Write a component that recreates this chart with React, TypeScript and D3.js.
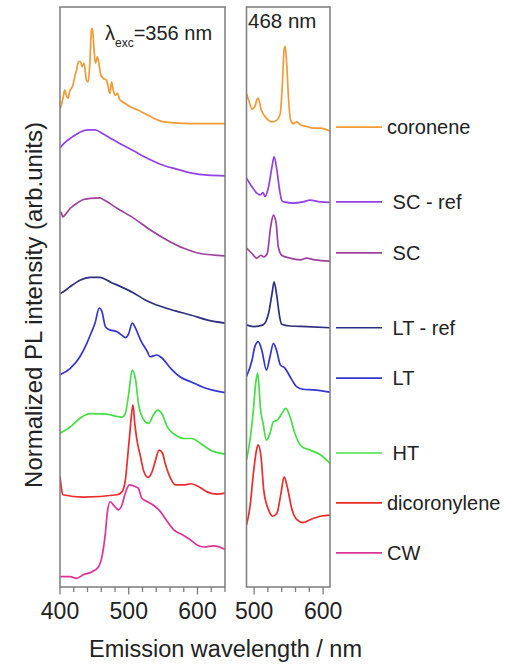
import React from "react";
import * as d3 from "d3";

// Emission spectra, stacked with vertical offsets (normalized PL intensity, arb. units).
// Each series: [wavelength nm, stacked intensity]
type Pt = [number, number];

const samples = ["coronene", "SC - ref", "SC", "LT - ref", "LT", "HT", "dicoronylene", "CW"];
const sampleColors = ["#f29a36", "#9340e6", "#9e409e", "#2f2f82", "#3434d2", "#44e044", "#ea2c2c", "#dc3496"];
// label text shown in the legend (some carry a leading space)
const legendLabels = ["coronene", " SC - ref", " SC", " LT - ref", " LT", " HT", "dicoronylene", "CW"];
const legendLevels = [79.3, 66.4, 57.6, 44.7, 36.0, 23.1, 14.5, 5.9];

// λexc = 356 nm panel
const coronene356: Pt[] = [[400,82.5],[402,83.1],[404.4,84.3],[407,85.7],[409,84.8],[411.7,84.3],[414,85.4],[419,86.6],[421.5,88.0],[424,89.1],[427,90.6],[430,90.6],[432,89.7],[435,90.3],[438.4,87.4],[441,87.1],[443.4,90.3],[445.7,96.0],[447.2,96.3],[449.2,93.2],[451.5,90.3],[454.5,91.4],[456.5,90.3],[459.4,88.3],[462.8,87.7],[467.6,87.4],[470,86.3],[472.6,85.1],[475,87.1],[477.4,85.7],[480,84.8],[483.7,85.1],[487,84.0],[494.5,83.4],[502,82.8],[514,82.2],[527,81.4],[551,80.2],[590,79.9],[640,79.9]];
const scRef356: Pt[] = [[400,75.7],[407,76.6],[418,77.6],[429,78.4],[441,78.8],[451,78.8],[463,78.1],[476,77.2],[491,76.2],[507,75.2],[524,74.1],[546,72.9],[568,72.1],[590,71.4],[615,71.0],[640,70.9]];
const sc356: Pt[] = [[400,64.7],[402,64.5],[404,63.8],[407,64.1],[415,65.3],[425,66.2],[434,66.8],[444,67.0],[458,67.1],[463,66.8],[483,65.3],[507,63.6],[531,61.6],[556,59.8],[580,58.4],[604,57.5],[640,57.1]];
const ltRef356: Pt[] = [[400,50.6],[405,50.9],[415,51.8],[429,52.9],[444,53.4],[458,53.4],[473,52.6],[507,50.7],[524,49.5],[546,48.4],[568,47.6],[590,46.9],[615,46.0],[640,45.5]];
const lt356: Pt[] = [[400,36.6],[415,37.7],[429,39.7],[439,42.0],[446,44.0],[451,45.5],[457,48.1],[461,47.5],[466,44.9],[471,44.4],[483,44.0],[490,43.4],[495,43.0],[500,43.7],[505,45.5],[510,44.6],[517,42.6],[527,40.6],[531,39.7],[541,40.0],[549,39.4],[561,37.7],[575,36.2],[590,35.4],[609,34.4],[640,33.5]];
const ht356: Pt[] = [[400,26.5],[415,27.6],[429,29.1],[444,29.9],[468,29.8],[483,29.4],[490,29.3],[495,29.9],[500,33.4],[505,37.4],[510,35.7],[514,31.7],[522,28.8],[529,28.2],[536,29.7],[542,30.5],[549,29.7],[556,27.6],[568,26.2],[580,25.6],[592,25.6],[604,24.8],[619,23.6],[640,22.9]];
const dicor356: Pt[] = [[400,19.1],[401.5,17.6],[404,15.9],[434,15.5],[483,15.9],[490,16.4],[495,18.4],[498,21.9],[502,27.1],[506,31.4],[509,27.9],[512,25.3],[517,22.5],[522,19.9],[528,18.9],[534,19.9],[539,21.9],[544,23.6],[549,23.1],[553,21.3],[561,18.7],[568,17.6],[580,17.6],[590,17.8],[602,17.3],[614,16.4],[629,16.0],[640,16.2]];
const cw356: Pt[] = [[400,1.8],[415,1.8],[424,1.5],[434,2.1],[446,2.6],[456,3.5],[461,5.2],[466,9.3],[469,13.0],[473,14.7],[478,14.1],[485,13.3],[490,14.1],[495,16.2],[501,17.6],[510,17.3],[514,17.0],[519,15.3],[527,14.7],[536,14.1],[546,13.0],[556,11.3],[566,9.8],[578,9.0],[590,8.1],[600,7.2],[609,6.9],[624,7.1],[640,6.5]];

// λexc = 468 nm panel
const coronene468: Pt[] = [[489,85.1],[492,84.0],[497,82.4],[501,82.8],[504,84.0],[506,84.3],[510,82.4],[514,81.4],[518,80.8],[526,80.2],[533,80.5],[538,81.7],[541,86.8],[543.5,92.6],[545,93.2],[547.5,89.7],[550,84.0],[553,80.5],[557,79.9],[562,80.2],[567,79.7],[576,79.4],[586,79.1],[596,79.1],[610,78.6]];
const scRef468: Pt[] = [[489,70.5],[497,69.0],[504,67.9],[509,67.6],[513,68.0],[516,67.3],[521,69.0],[526,72.5],[529,74.2],[533,71.9],[537,68.4],[540,66.7],[543,66.4],[557,66.2],[571,66.4],[581,66.7],[596,66.4],[610,66.3]];
const sc468: Pt[] = [[489,58.4],[497,57.5],[504,56.7],[510,57.2],[514,56.9],[519,57.5],[524,62.1],[528,64.1],[532,62.7],[535,58.7],[540,57.2],[552,56.7],[567,56.4],[576,56.7],[588,56.4],[610,56.2]];
const ltRef468: Pt[] = [[489,45.2],[499,44.9],[513,45.2],[521,47.2],[526,50.6],[529,52.6],[533,50.1],[537,46.6],[540,45.3],[552,45.0],[576,44.9],[610,44.7]];
const lt468: Pt[] = [[489,36.3],[497,39.1],[501,41.4],[506,42.3],[511,40.9],[518,37.4],[523,39.7],[528,42.0],[533,40.6],[538,38.3],[545,37.7],[552,36.3],[562,34.5],[571,34.1],[586,34.0],[610,33.6]];
const ht468: Pt[] = [[489,21.9],[494,25.3],[499,30.5],[502,34.8],[505,36.9],[507,34.8],[509,31.1],[513,28.2],[518,25.3],[523,26.5],[528,28.5],[534,28.8],[540,29.9],[546,30.8],[552,29.4],[559,26.5],[569,24.2],[581,23.6],[596,22.8],[610,21.3]];
const dicor468: Pt[] = [[489,10.7],[494,13.8],[499,19.6],[504,23.9],[506,24.5],[510,22.5],[514,16.7],[521,13.3],[527,12.2],[533,12.7],[539,16.2],[543.5,19.0],[548,17.3],[555,13.3],[562,11.6],[571,11.1],[581,11.6],[596,12.2],[610,12.4]];

const seriesLeft: Pt[][] = [coronene356, scRef356, sc356, ltRef356, lt356, ht356, dicor356, cw356];
const seriesRight: (Pt[] | null)[] = [coronene468, scRef468, sc468, ltRef468, lt468, ht468, dicor468, null];

const leftTicks = d3.range(400, 641, 20);
const rightTicks = d3.range(500, 601, 20);
const leftTickLabels = [400, 500, 600];
const rightTickLabels = [500, 600];

const FONT = "'Liberation Sans', Arial, sans-serif";
const FRAME = "#7c7c7c";
const TEXT = "#222";

export default function App() {
  const y = d3.scaleLinear().domain([0, 100]).range([587, 7]);
  const xL = d3.scaleLinear().domain([400, 640]).range([60, 225]);
  const xR = d3.scaleLinear().domain([489, 610]).range([246.5, 330]);

  const lineL = d3.line<Pt>().x((d) => xL(d[0])).y((d) => y(d[1])).curve(d3.curveMonotoneX);
  const lineR = d3.line<Pt>().x((d) => xR(d[0])).y((d) => y(d[1])).curve(d3.curveMonotoneX);

  const yTop = y(100);
  const yBot = y(0);

  const panel = (
    id: string,
    x: d3.ScaleLinear<number, number>,
    ticks: number[],
    labels: number[]
  ) => {
    const [x0, x1] = x.range();
    return (
      <g>
        <defs>
          <clipPath id={id}>
            <rect x={x0} y={yTop} width={x1 - x0} height={yBot - yTop} />
          </clipPath>
        </defs>
        {ticks.map((t) => {
          const major = t % 100 === 0;
          return (
            <line
              key={t}
              x1={x(t)}
              x2={x(t)}
              y1={yBot}
              y2={yBot + (major ? 7.5 : 5)}
              stroke={FRAME}
              strokeWidth={1.3}
            />
          );
        })}
        {labels.map((t) => (
          <text key={t} x={x(t)} y={619} textAnchor="middle" fontSize={23} fill={TEXT}>
            {t}
          </text>
        ))}
      </g>
    );
  };

  return (
    <svg
      width={505}
      height={666}
      style={{ position: "absolute", left: 0, top: 0, background: "#fff" }}
      fontFamily={FONT}
    >
      {panel("clipL", xL, leftTicks, leftTickLabels)}
      {panel("clipR", xR, rightTicks, rightTickLabels)}

      <g clipPath="url(#clipL)">
        {seriesLeft.map((s, i) => (
          <path key={i} d={lineL(s) ?? ""} fill="none" stroke={sampleColors[i]} strokeWidth={1.7} strokeLinejoin="round" />
        ))}
      </g>
      <g clipPath="url(#clipR)">
        {seriesRight.map((s, i) =>
          s ? (
            <path key={i} d={lineR(s) ?? ""} fill="none" stroke={sampleColors[i]} strokeWidth={1.7} strokeLinejoin="round" />
          ) : null
        )}
      </g>

      {/* panel frames */}
      <rect x={xL.range()[0]} y={yTop} width={xL.range()[1] - xL.range()[0]} height={yBot - yTop} fill="none" stroke={FRAME} strokeWidth={1.5} />
      <rect x={xR.range()[0]} y={yTop} width={xR.range()[1] - xR.range()[0]} height={yBot - yTop} fill="none" stroke={FRAME} strokeWidth={1.5} />

      {/* excitation wavelengths */}
      <text x={105} y={40} fontSize={20} fill={TEXT}>
        λ
        <tspan fontSize={12} dy={7}>exc</tspan>
        <tspan fontSize={20} dy={-7}>=356 nm</tspan>
      </text>
      <text x={248} y={28} fontSize={20.5} fill={TEXT}>468 nm</text>

      {/* legend */}
      {samples.map((s, i) => (
        <g key={s}>
          <line x1={336} x2={382} y1={y(legendLevels[i])} y2={y(legendLevels[i])} stroke={sampleColors[i]} strokeWidth={1.7} />
          <text x={387} y={y(legendLevels[i]) + 7} fontSize={20} fill={TEXT} style={{ whiteSpace: "pre" }}>
            {legendLabels[i]}
          </text>
        </g>
      ))}

      {/* axis titles */}
      <text x={225.5} y={657} textAnchor="middle" fontSize={23.5} fill={TEXT}>
        Emission wavelength / nm
      </text>
      <text transform="translate(42,305) rotate(-90)" textAnchor="middle" fontSize={24} fill={TEXT}>
        Normalized PL intensity (arb.units)
      </text>
    </svg>
  );
}
